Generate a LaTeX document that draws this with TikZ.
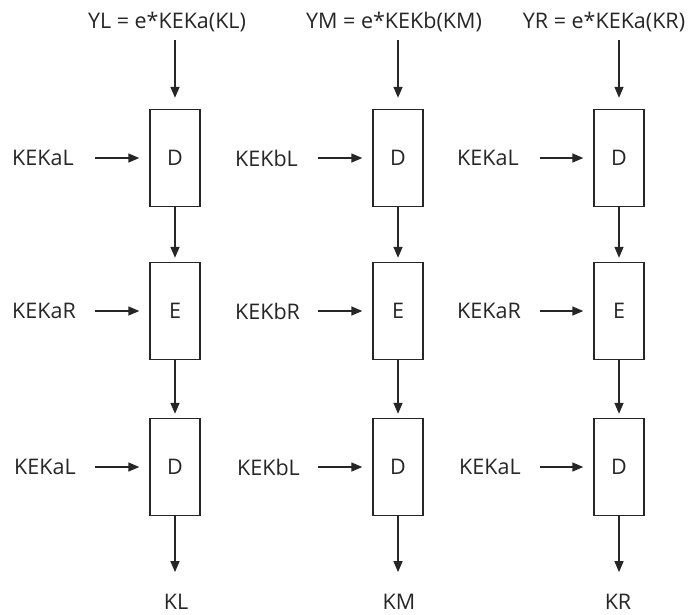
\documentclass[tikz,border=0pt]{standalone}
\usepackage{fontspec}
\setmainfont{Open Sans}
\usetikzlibrary{arrows.meta}
\begin{document}
\begin{tikzpicture}[x=1pt,y=-1pt,
  txt/.style={inner sep=0pt, font=\fontsize{21.5}{25}\selectfont, text=black!85},
  sidelbl/.style={txt, anchor=west, text width=70pt, align=left},
  blk/.style={draw=black!85, line width=1.4pt, minimum width=50pt, minimum height=97pt, inner sep=0pt, font=\fontsize{21.5}{25}\selectfont, text=black!85},
  arr/.style={draw=black!85, line width=1.4pt, -{Triangle[length=11pt,width=9pt]}}]
\useasboundingbox[fill=white] (0,0) rectangle (698,614);
% boxes
\node[blk] (d1) at (175,158) {D};
\node[blk] (e1) at (175,311) {E};
\node[blk] (f1) at (175,467) {D};
\node[blk] (d2) at (398,158) {D};
\node[blk] (e2) at (398,311) {E};
\node[blk] (f2) at (398,467) {D};
\node[blk] (d3) at (619,158) {D};
\node[blk] (e3) at (619,311) {E};
\node[blk] (f3) at (619,467) {D};
% top labels
\node[txt] (t1) at (167,22) {YL = e*KEKa(KL)};
\node[txt] (t2) at (394,22) {YM = e*KEKb(KM)};
\node[txt] (t3) at (604,22) {YR = e*KEKa(KR)};
% bottom labels
\node[txt] (b1) at (176,602) {KL};
\node[txt] (b2) at (399,602) {KM};
\node[txt] (b3) at (618,602) {KR};
% side labels
\node[sidelbl] (l11) at (12,158) {KEKaL};
\node[sidelbl] (l12) at (12,311) {KEKaR};
\node[sidelbl] (l13) at (14,467) {KEKaL};
\node[sidelbl] (l21) at (235,158) {KEKbL};
\node[sidelbl] (l22) at (235,311) {KEKbR};
\node[sidelbl] (l23) at (237,467) {KEKbL};
\node[sidelbl] (l31) at (457,158) {KEKaL};
\node[sidelbl] (l32) at (457,311) {KEKaR};
\node[sidelbl] (l33) at (459,467) {KEKaL};
% vertical arrows
\foreach \c in {1,2,3}{
  \draw[arr, shorten >=11pt] (t\c.south -| d\c.north) ++(0,8) -- (d\c.north);
  \draw[arr, shorten >=4pt] (d\c.south) -- (e\c.north);
  \draw[arr, shorten >=4pt] (e\c.south) -- (f\c.north);
  \draw[arr, shorten >=22pt] (f\c.south) -- (f\c.south |- b\c.north);
}
% horizontal arrows
\foreach \c in {1,2,3}{
  \draw[arr, shorten <=13pt, shorten >=10pt] (l\c1.east) -- (d\c.west);
  \draw[arr, shorten <=13pt, shorten >=10pt] (l\c2.east) -- (e\c.west);
  \draw[arr, shorten <=11pt, shorten >=10pt] (l\c3.east) -- (f\c.west);
}
\end{tikzpicture}
\end{document}
